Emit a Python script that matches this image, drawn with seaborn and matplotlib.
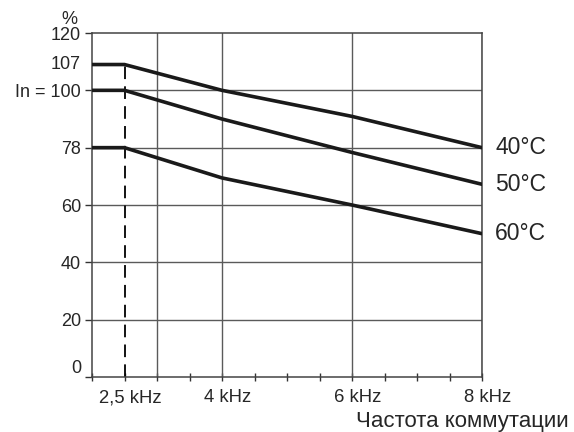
import numpy as np
import pandas as pd
import matplotlib
matplotlib.use("Agg")
import matplotlib.pyplot as plt
import matplotlib.transforms as mtransforms
import seaborn as sns

# ---- data ----
freq_khz = [2.0, 2.5, 4.0, 6.0, 8.0]
curve_40 = [107, 107, 100, 90, 78]
curve_50 = [100, 100, 89, 76.5, 66.5]
curve_60 = [78, 78, 68.5, 60, 50]
temps = ["40°C", "50°C", "60°C"]

x_tick_vals = [2.5, 4, 6, 8]
x_tick_labels = ["2,5 kHz", "4 kHz", "6 kHz", "8 kHz"]
y_tick_vals = [0, 20, 40, 60, 78, 100, 120]
y_tick_labels = ["0", "20", "40", "60", "78", "In = 100", "120"]
grid_x = [3, 4, 6, 8]
grid_y = [20, 40, 60, 78, 100]
# schematic (non-linear) y axis: real value -> drawn position
axis_real = [0, 20, 40, 60, 78, 100, 107, 120]
axis_pos = [0, 20, 40, 60, 80, 100, 109, 120]

df = pd.DataFrame({
    "freq": freq_khz * 3,
    "value": curve_40 + curve_50 + curve_60,
    "temp": [temps[0]] * 5 + [temps[1]] * 5 + [temps[2]] * 5,
})

sns.set_style("ticks")
plt.rcParams["font.family"] = ["Liberation Sans", "DejaVu Sans"]

fig = plt.figure(figsize=(5.74, 4.32), dpi=100)
ax = fig.add_axes([92 / 574, 1 - 377 / 432, 390 / 574, 344 / 432])

fwd = lambda y: np.interp(y, axis_real, axis_pos)
inv = lambda p: np.interp(p, axis_pos, axis_real)
ax.set_yscale("function", functions=(fwd, inv))

grid_c = "#5a5a5a"
for gx in grid_x:
    ax.axvline(gx, color=grid_c, lw=1.0, zorder=1)
for gy in grid_y:
    ax.axhline(gy, color=grid_c, lw=1.0, zorder=1)

# dashed marker at 2.5 kHz up to the top plateau
ax.plot([x_tick_vals[0], x_tick_vals[0]], [0, curve_40[1]], color="black",
        lw=1.3, dashes=(7, 4), zorder=2)

sns.lineplot(data=df, x="freq", y="value", hue="temp", units="temp",
             estimator=None, palette=["#1a1a1a"] * 3, lw=2.6, legend=False,
             ax=ax, zorder=3)

for t, vals in zip(temps, [curve_40, curve_50, curve_60]):
    ax.annotate(t, xy=(freq_khz[-1], vals[-1]), xytext=(9.5, 0),
                textcoords="offset points", va="center", ha="left",
                fontsize=16.5, annotation_clip=False)

ax.set_xlim(2, 8)
ax.set_ylim(0, 120)
ax.set_xticks(x_tick_vals)
ax.set_xticklabels(x_tick_labels, fontsize=13.3)
ax.set_xticks(np.arange(2, 8.01, 0.5), minor=True)
ax.set_yticks(y_tick_vals)
ax.set_yticklabels(y_tick_labels, fontsize=13)
ax.tick_params(axis="x", which="both", direction="inout", length=6, width=1,
               color="#333333", pad=6)
ax.tick_params(axis="y", direction="out", length=5, width=1, color="#333333",
               pad=3)
shift = mtransforms.ScaledTranslation(6 / 100, 0, fig.dpi_scale_trans)
for lab in ax.get_xticklabels():
    lab.set_transform(lab.get_transform() + shift)
for lab in ax.get_yticklabels():
    if lab.get_text() == "0":
        lab.set_va("bottom")
ax.set_xlabel("")
ax.set_ylabel("")

for s in ax.spines.values():
    s.set_color("#444444")
    s.set_linewidth(1.1)

trans = mtransforms.blended_transform_factory(ax.transAxes, ax.transData)
ax.text(-0.03, curve_40[0], "107", transform=trans, ha="right", va="center",
        fontsize=13)
fig.text(69 / 574, 1 - 19 / 432, "%", ha="center", va="center", fontsize=13)
fig.text(569 / 574, 1 - 421 / 432, "Частота коммутации", ha="right",
         va="center", fontsize=16)

fig.savefig("out.png", dpi=100)
